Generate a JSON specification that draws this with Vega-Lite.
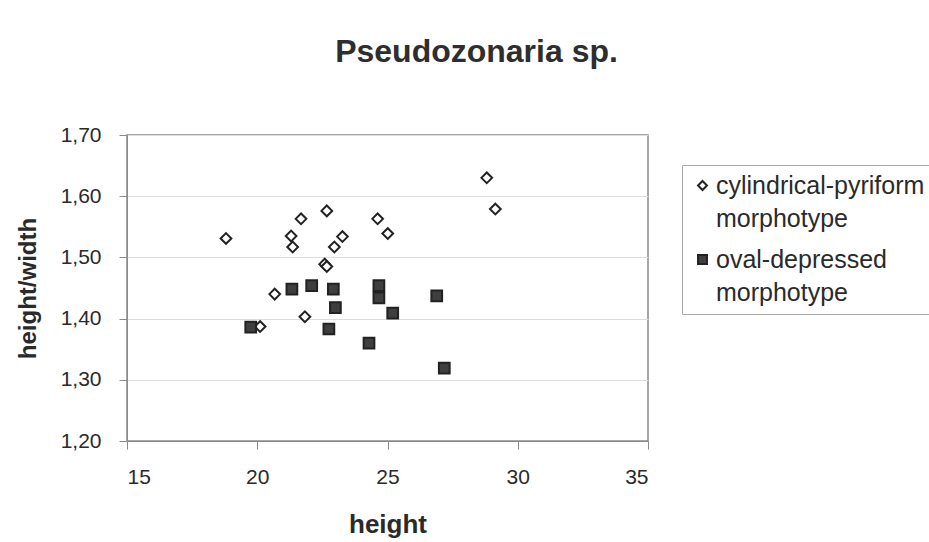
{
  "$schema": "https://vega.github.io/schema/vega-lite/v6.json",
  "width": 521,
  "height": 306,
  "autosize": {"type": "none"},
  "padding": {"left": 127, "top": 135, "right": 281, "bottom": 101},
  "background": "white",
  "title": {
    "text": "Pseudozonaria sp.",
    "font": "Liberation Sans",
    "fontSize": 32,
    "fontWeight": "bold",
    "color": "#2e2e2e",
    "anchor": "middle",
    "dx": 89,
    "offset": 55
  },
  "config": {
    "font": "Liberation Sans",
    "view": {"stroke": "#8a8a8a", "strokeWidth": 1.5},
    "style": {"guide-label": {"lineHeight": 33}},
    "axis": {
      "labelFont": "Liberation Sans",
      "labelFontSize": 21,
      "labelColor": "#2a2a2a",
      "titleFont": "Liberation Sans",
      "titleFontSize": 24,
      "titleFontWeight": "bold",
      "titleColor": "#2a2a2a",
      "domainColor": "#8a8a8a",
      "tickColor": "#8a8a8a",
      "gridColor": "#dddddd"
    },
    "legend": {
      "labelFont": "Liberation Sans",
      "labelFontSize": 25,
      "labelColor": "#2a2a2a",
      "labelLimit": 400,
      "fillColor": "white",
      "strokeColor": "#aaaaaa",
      "padding": 8,
      "rowPadding": 15,
      "labelOffset": 1,
      "symbolSize": 80,
      "symbolStrokeWidth": 2,
      "symbolStrokeColor": "#222222"
    }
  },
  "data": {
    "values": [
      {"height": 18.80, "ratio": 1.531, "morphotype": "cylindrical-pyriform morphotype"},
      {"height": 21.68, "ratio": 1.563, "morphotype": "cylindrical-pyriform morphotype"},
      {"height": 22.67, "ratio": 1.576, "morphotype": "cylindrical-pyriform morphotype"},
      {"height": 21.30, "ratio": 1.535, "morphotype": "cylindrical-pyriform morphotype"},
      {"height": 21.36, "ratio": 1.517, "morphotype": "cylindrical-pyriform morphotype"},
      {"height": 23.27, "ratio": 1.534, "morphotype": "cylindrical-pyriform morphotype"},
      {"height": 22.96, "ratio": 1.517, "morphotype": "cylindrical-pyriform morphotype"},
      {"height": 22.59, "ratio": 1.489, "morphotype": "cylindrical-pyriform morphotype"},
      {"height": 22.67, "ratio": 1.485, "morphotype": "cylindrical-pyriform morphotype"},
      {"height": 24.62, "ratio": 1.563, "morphotype": "cylindrical-pyriform morphotype"},
      {"height": 25.01, "ratio": 1.539, "morphotype": "cylindrical-pyriform morphotype"},
      {"height": 20.67, "ratio": 1.440, "morphotype": "cylindrical-pyriform morphotype"},
      {"height": 21.83, "ratio": 1.403, "morphotype": "cylindrical-pyriform morphotype"},
      {"height": 20.11, "ratio": 1.387, "morphotype": "cylindrical-pyriform morphotype"},
      {"height": 28.81, "ratio": 1.630, "morphotype": "cylindrical-pyriform morphotype"},
      {"height": 29.14, "ratio": 1.579, "morphotype": "cylindrical-pyriform morphotype"},
      {"height": 19.75, "ratio": 1.386, "morphotype": "oval-depressed morphotype"},
      {"height": 21.33, "ratio": 1.448, "morphotype": "oval-depressed morphotype"},
      {"height": 22.09, "ratio": 1.454, "morphotype": "oval-depressed morphotype"},
      {"height": 22.92, "ratio": 1.448, "morphotype": "oval-depressed morphotype"},
      {"height": 23.00, "ratio": 1.418, "morphotype": "oval-depressed morphotype"},
      {"height": 22.75, "ratio": 1.383, "morphotype": "oval-depressed morphotype"},
      {"height": 24.67, "ratio": 1.454, "morphotype": "oval-depressed morphotype"},
      {"height": 24.67, "ratio": 1.434, "morphotype": "oval-depressed morphotype"},
      {"height": 24.29, "ratio": 1.360, "morphotype": "oval-depressed morphotype"},
      {"height": 25.20, "ratio": 1.409, "morphotype": "oval-depressed morphotype"},
      {"height": 26.89, "ratio": 1.437, "morphotype": "oval-depressed morphotype"},
      {"height": 27.18, "ratio": 1.319, "morphotype": "oval-depressed morphotype"}
    ]
  },
  "mark": {"type": "point", "filled": true, "stroke": "#222222", "strokeWidth": 2, "opacity": 1, "size": 115},
  "encoding": {
    "x": {
      "field": "height",
      "type": "quantitative",
      "scale": {"domain": [15, 35], "nice": false, "zero": false},
      "axis": {
        "title": "height",
        "titleFontSize": 26,
        "values": [15, 20, 25, 30, 35],
        "grid": false,
        "tickSize": 8,
        "labelPadding": 17,
        "titlePadding": 24
      }
    },
    "y": {
      "field": "ratio",
      "type": "quantitative",
      "scale": {"domain": [1.2, 1.7], "nice": false, "zero": false},
      "axis": {
        "title": "height/width",
        "values": [1.2, 1.3, 1.4, 1.5, 1.6, 1.7],
        "labelExpr": "replace(format(datum.value, '.2f'), '.', ',')",
        "grid": true,
        "tickSize": 8,
        "labelPadding": 18,
        "titlePadding": 20
      }
    },
    "shape": {
      "field": "morphotype",
      "type": "nominal",
      "scale": {"domain": ["cylindrical-pyriform morphotype", "oval-depressed morphotype"], "range": ["diamond", "square"]},
      "legend": {
        "title": null,
        "orient": "none",
        "legendX": 555,
        "legendY": 30,
        "labelExpr": "split(datum.label, ' ')",
        "labelBaseline": "middle"
      }
    },
    "color": {
      "field": "morphotype",
      "type": "nominal",
      "scale": {"domain": ["cylindrical-pyriform morphotype", "oval-depressed morphotype"], "range": ["white", "#3f3f3f"]},
      "legend": {
        "title": null,
        "orient": "none",
        "legendX": 555,
        "legendY": 30,
        "labelExpr": "split(datum.label, ' ')",
        "labelBaseline": "middle"
      }
    }
  }
}
